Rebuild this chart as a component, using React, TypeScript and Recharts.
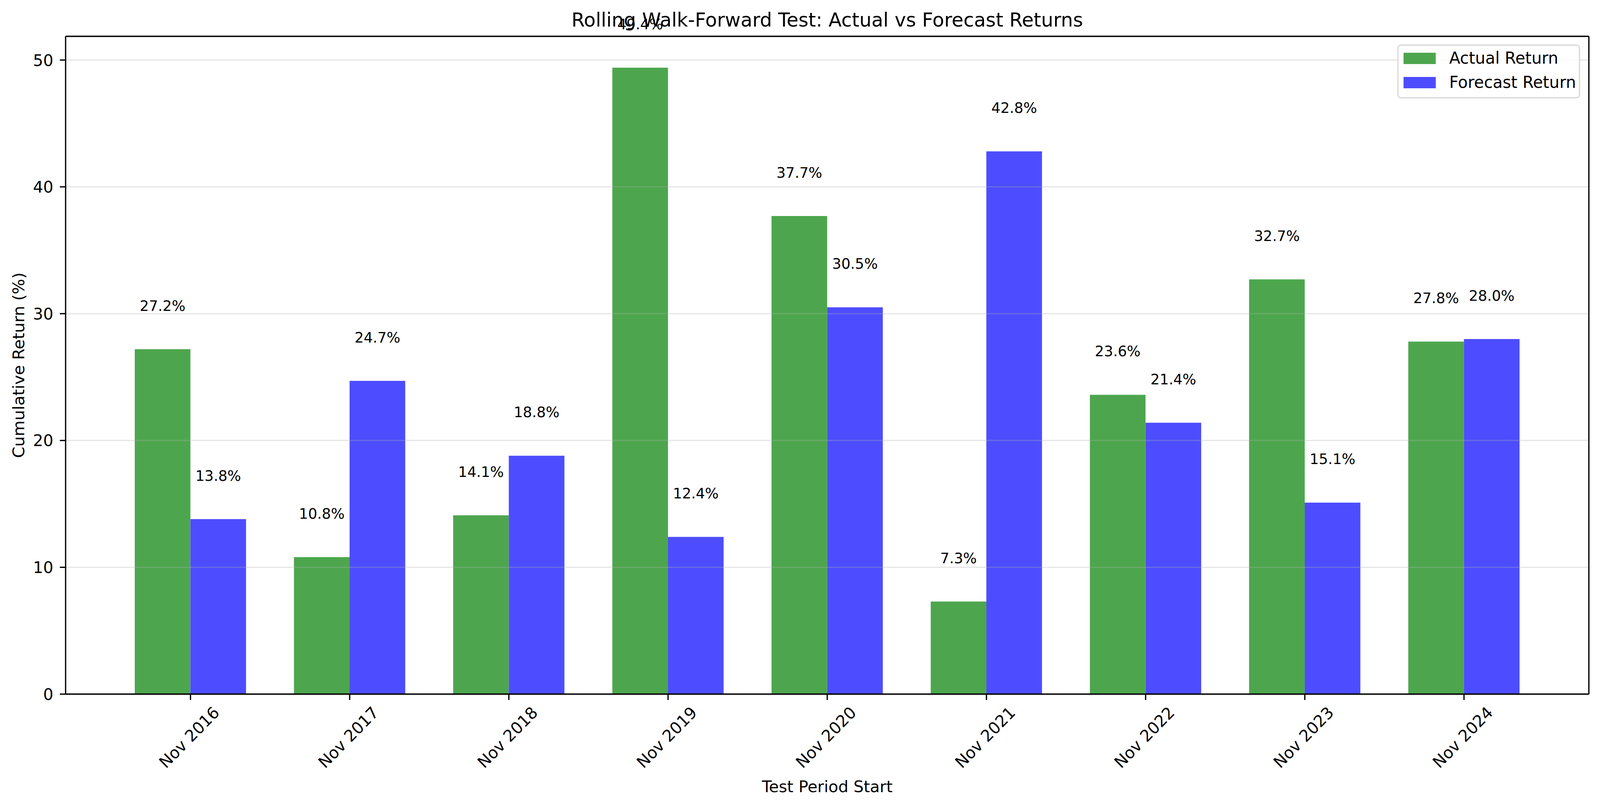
import React from "react";
import {
  BarChart,
  Bar,
  XAxis,
  YAxis,
  ReferenceLine,
  Legend,
  LabelList,
  Label,
} from "recharts";

const periods = [
  "Nov 2016",
  "Nov 2017",
  "Nov 2018",
  "Nov 2019",
  "Nov 2020",
  "Nov 2021",
  "Nov 2022",
  "Nov 2023",
  "Nov 2024",
];
const actualReturns = [27.2, 10.8, 14.1, 49.4, 37.7, 7.3, 23.6, 32.7, 27.8];
const forecastReturns = [13.8, 24.7, 18.8, 12.4, 30.5, 42.8, 21.4, 15.1, 28.0];
const yTicks = [0, 10, 20, 30, 40, 50];

const data = periods.map((period, i) => ({
  period,
  actual: actualReturns[i],
  forecast: forecastReturns[i],
}));

const W = 4170;
const H = 2066;
const PLOT_LEFT = 171;
const PLOT_RIGHT = 4141;
const PLOT_TOP = 93;
const PLOT_BOTTOM = 1777;
const Y_MAX = Math.max(...actualReturns, ...forecastReturns) * 1.05;
const PX_PER_UNIT = (PLOT_BOTTOM - PLOT_TOP) / Y_MAX;
const FONT = "DejaVu Sans";
const AXIS_STROKE = 3.3;
const TICK_FONT = 41.7;
const X_PAD = 118;

const GREEN = "#4da64d";
const BLUE = "#4d4dff";

// text sits 3 units above each bar, like the original annotate offset
function ValueLabel(props: any) {
  const { x, y, width, value } = props;
  const ty = Number(y) - 3 * PX_PER_UNIT - 1;
  return (
    <text
      x={Number(x) + Number(width) / 2}
      y={ty}
      textAnchor="middle"
      fontSize={37.5}
      fontFamily={FONT}
      fill="#000"
    >
      {`${Number(value).toFixed(1)}%`}
    </text>
  );
}

function PeriodTick(props: any) {
  const { x, payload } = props;
  const cx = Number(x) - 3;
  const cy = PLOT_BOTTOM + 111;
  return (
    <text
      x={cx}
      y={cy}
      transform={`rotate(-45 ${cx} ${cy})`}
      textAnchor="middle"
      dominantBaseline="central"
      fontSize={TICK_FONT}
      fontFamily={FONT}
      fill="#000"
    >
      {payload.value}
    </text>
  );
}

function LegendBox(props: any) {
  const items = props.payload || [];
  return (
    <div
      style={{
        boxSizing: "border-box",
        width: 476,
        height: 138,
        border: "3px solid #d6d6d6",
        borderRadius: 9,
        background: "rgba(255,255,255,0.8)",
        position: "relative",
        fontFamily: FONT,
      }}
    >
      {items.map((it: any, i: number) => (
        <div
          key={it.value}
          style={{
            position: "absolute",
            left: 13,
            top: 1 + i * 62,
            height: 62,
            display: "flex",
            alignItems: "center",
            whiteSpace: "nowrap",
          }}
        >
          <span
            style={{ width: 84, height: 29, background: it.color, display: "inline-block" }}
          />
          <span style={{ marginLeft: 35, fontSize: 42, lineHeight: 1, color: "#000" }}>
            {it.value}
          </span>
        </div>
      ))}
    </div>
  );
}

const axisLine = { stroke: "#000", strokeWidth: AXIS_STROKE };

export default function App() {
  const midX = (PLOT_LEFT + PLOT_RIGHT) / 2;
  const midY = (PLOT_TOP + PLOT_BOTTOM) / 2;
  // the browser window may be narrower than the target size, so squeeze to fit
  const sx = Math.min(1, window.innerWidth / W);
  const sy = Math.min(1, window.innerHeight / H);
  return (
    <div
      style={{
        position: "fixed",
        left: 0,
        top: 0,
        width: W * sx,
        height: H * sy,
        overflow: "hidden",
        background: "#fff",
      }}
    >
      <style>{"body{margin:0}"}</style>
      <div
        style={{
          width: W,
          height: H,
          transform: `scale(${sx}, ${sy})`,
          transformOrigin: "0 0",
        }}
      >
        <BarChart
          width={W}
          height={H}
          data={data}
          margin={{ top: PLOT_TOP - 1, right: W - PLOT_RIGHT - 1, bottom: 0, left: 0 }}
          barCategoryGap="15%"
          barGap={0}
          style={{ fontFamily: FONT }}
        >
          <XAxis
            dataKey="period"
            height={H - PLOT_BOTTOM}
            padding={{ left: X_PAD, right: X_PAD }}
            interval={0}
            axisLine={axisLine}
            tickLine={{ stroke: "#000", strokeWidth: AXIS_STROKE }}
            tickSize={15}
            tick={<PeriodTick />}
          >
            <Label
              content={() => (
                <text
                  x={midX}
                  y={2028}
                  textAnchor="middle"
                  fontSize={TICK_FONT}
                  fontFamily={FONT}
                  fill="#000"
                >
                  Test Period Start
                </text>
              )}
            />
          </XAxis>
          <XAxis
            xAxisId="top"
            orientation="top"
            dataKey="period"
            height={1}
            tick={false}
            tickLine={false}
            axisLine={axisLine}
          >
            <Label
              content={() => (
                <text
                  x={midX}
                  y={68}
                  textAnchor="middle"
                  fontSize={50}
                  fontFamily={FONT}
                  fill="#000"
                >
                  Rolling Walk-Forward Test: Actual vs Forecast Returns
                </text>
              )}
            />
          </XAxis>
          <YAxis
            type="number"
            domain={[0, Y_MAX]}
            ticks={yTicks}
            width={PLOT_LEFT}
            axisLine={axisLine}
            tickLine={{ stroke: "#000", strokeWidth: AXIS_STROKE }}
            tickSize={15}
            tickMargin={17}
            tick={{ fill: "#000", fontSize: TICK_FONT, fontFamily: FONT }}
          >
            <Label
              content={() => (
                <text
                  x={63}
                  y={midY}
                  transform={`rotate(-90 63 ${midY})`}
                  textAnchor="middle"
                  fontSize={TICK_FONT}
                  fontFamily={FONT}
                  fill="#000"
                >
                  Cumulative Return (%)
                </text>
              )}
            />
          </YAxis>
          <YAxis
            yAxisId="right"
            orientation="right"
            type="number"
            domain={[0, Y_MAX]}
            width={1}
            tick={false}
            tickLine={false}
            axisLine={axisLine}
          />
          <Bar dataKey="actual" name="Actual Return" fill={GREEN} isAnimationActive={false}>
            <LabelList dataKey="actual" content={<ValueLabel />} />
          </Bar>
          <Bar dataKey="forecast" name="Forecast Return" fill={BLUE} isAnimationActive={false}>
            <LabelList dataKey="forecast" content={<ValueLabel />} />
          </Bar>
          {yTicks.map((t) => (
            <ReferenceLine
              key={t}
              y={t}
              stroke="#b0b0b0"
              strokeOpacity={0.3}
              strokeWidth={3.3}
            />
          ))}
          <Legend
            layout="vertical"
            align="center"
            verticalAlign="middle"
            content={<LegendBox />}
            wrapperStyle={{ left: 3642, top: 114, width: 476, height: 138 }}
          />
        </BarChart>
      </div>
    </div>
  );
}
